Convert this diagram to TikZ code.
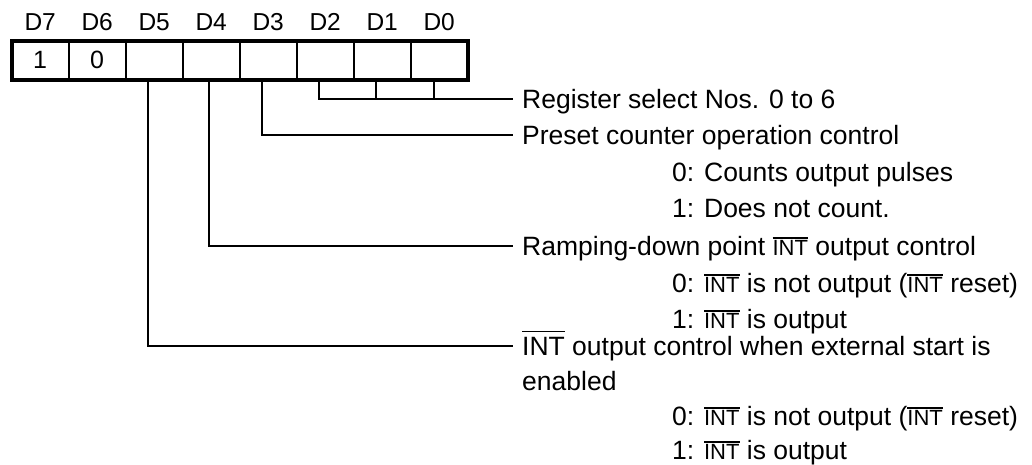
\documentclass[tikz,border=0pt]{standalone}
\usepackage{fontspec}
\setmainfont{Liberation Sans}
\usetikzlibrary{positioning}

% overlined signal names
\newcommand{\barint}{\leavevmode\vbox{\hrule height 1.5pt\kern 1.5pt\hbox{\fontsize{22}{22}\selectfont INT}}}
\newcommand{\longbarint}{\leavevmode\vbox{\hrule height 1.5pt\kern 5pt\hbox{INT}}}

\begin{document}
\begin{tikzpicture}[x=1pt, y=-1pt,
    bitcell/.style={draw, line width=2pt, minimum width=57pt, minimum height=39pt,
        inner sep=0pt, outer sep=0pt, font=\fontsize{25}{25}\selectfont},
    bitname/.style={inner sep=0pt, font=\fontsize{24.5}{24.5}\selectfont},
    field/.style={anchor=west, inner xsep=9pt, inner ysep=0pt, text height=19pt,
        text depth=0pt, font=\fontsize{26.5}{26.5}\selectfont},
    choice/.style={field, inner xsep=0pt},
    wire/.style={line width=2pt}]

    \useasboundingbox (0,0) rectangle (1032,464);

    % register cells D7 ... D0
    \foreach \i/\v [count=\k from 0] in {7/1,6/0,5/{},4/{},3/{},2/{},1/{},0/{}}{
        \node [bitcell] (b\i) at (40.2+57*\k,60) {\v};
        \node [bitname, above=10pt of b\i] (n\i) {D\i};
    }
    \draw [line width=4pt] (b7.north west) rectangle (b0.south east);

    % field descriptions
    \node [field] (regsel) at (513,99) {Register select Nos. 0 to 6};
    \node [field] (preset) at (513,135) {Preset counter operation control};
    \node [choice] (cnt0) at (672,172) {0: Counts output pulses};
    \node [choice] (cnt1) at (672,208) {1: Does not count.};
    \node [field] (ramp) at (513,246) {Ramping-down point \barint{} output control};
    \node [choice] (ramp0) at (672,283) {0: \barint{} is not output (\barint{} reset)};
    \node [choice] (ramp1) at (672,319) {1: \barint{} is output};
    \node [field] (extint) at (513,346) {\longbarint{} output control when external start is};
    \node [field] (extint2) at (513,381) {enabled};
    \node [choice] (ext0) at (672,416) {0: \barint{} is not output (\barint{} reset)};
    \node [choice] (ext1) at (672,450) {1: \barint{} is output};

    % leaders from the bits
    \draw [wire] ([xshift=-6pt]b5.south) |- (extint.west);
    \draw [wire] ([xshift=-2pt]b4.south) |- (ramp.west);
    \draw [wire] ([xshift=-6pt]b3.south) |- (preset.west);
    \draw [wire] ([xshift=-6pt]b2.south) |- (regsel.west);
    \draw [wire] ([xshift=-6pt]b1.south) -- ([xshift=-6pt]b1.south |- regsel.west);
    \draw [wire] ([xshift=-5pt]b0.south) -- ([xshift=-5pt]b0.south |- regsel.west);
\end{tikzpicture}
\end{document}
